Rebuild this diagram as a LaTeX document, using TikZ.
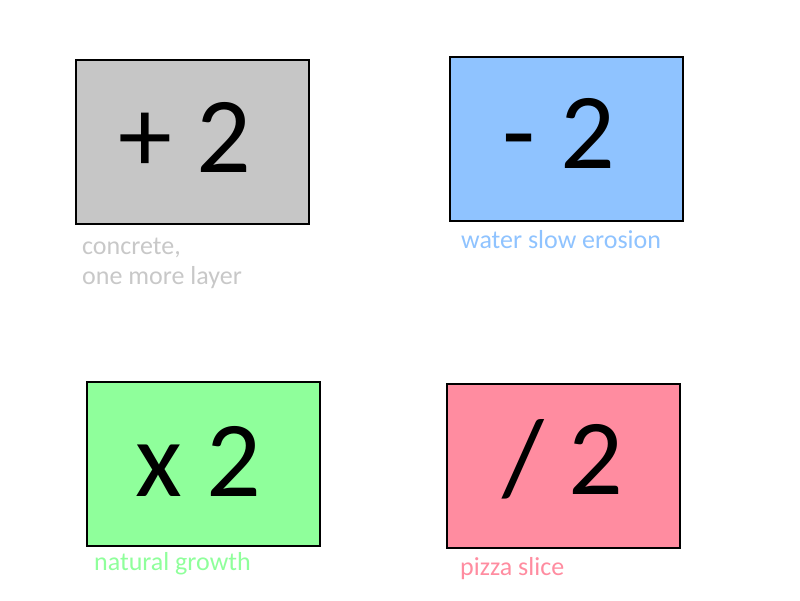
\documentclass[tikz,border=0pt]{standalone}
\usepackage{fontspec}
\setmainfont{Carlito}
\definecolor{cgray}{HTML}{C6C6C6}
\definecolor{cgraytxt}{HTML}{C8C8C8}
\definecolor{cblue}{HTML}{8FC3FF}
\definecolor{cgreen}{HTML}{8FFF9B}
\definecolor{cpink}{HTML}{FF8CA0}
\tikzset{
  opbox/.style={draw=black, line width=2pt},
  bigtxt/.style={anchor=base, inner sep=0pt, font=\fontsize{108}{120}\selectfont},
  lbl/.style={anchor=base west, inner sep=0pt, font=\fontsize{26}{30}\selectfont}
}
\begin{document}
\begin{tikzpicture}[x=1pt,y=-1pt]
\useasboundingbox (0,0) rectangle (800,600);
\filldraw[opbox, fill=cgray] (76,60) rectangle (309,224);
\filldraw[opbox, fill=cblue] (450,57) rectangle (683,221);
\filldraw[opbox, fill=cgreen] (87,382) rectangle (320,546);
\filldraw[opbox, fill=cpink] (447,384) rectangle (680,548);
\node[bigtxt] (t1) at (185,172) {+ 2};
\node[bigtxt] (t2) at (559,168) {- 2};
\node[bigtxt] (t3) at (198,496) {x 2};
\node[bigtxt] (t4) at (563,494) {/ 2};
\node[lbl, text=cgraytxt] (l1) at (82,254) {concrete,};
\node[lbl, text=cgraytxt] (l1b) at (82,284) {one more layer};
\node[lbl, text=cblue] (l2) at (461,248) {water slow erosion};
\node[lbl, text=cgreen] (l3) at (94,570) {natural growth};
\node[lbl, text=cpink] (l4) at (460,575) {pizza slice};
\end{tikzpicture}
\end{document}
